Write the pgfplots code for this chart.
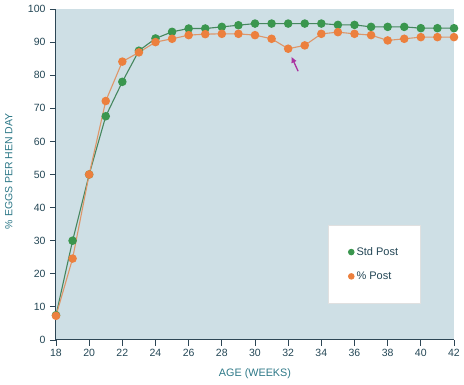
\documentclass[border=0pt]{standalone}
\usepackage{pgfplots}
\pgfplotsset{compat=1.18}
\usetikzlibrary{arrows.meta}
\usepackage{fontspec}
\setmainfont{Liberation Sans}
\definecolor{bgcol}{RGB}{206,223,229}
\definecolor{axcol}{RGB}{45,70,85}
\definecolor{tickcol}{RGB}{35,70,85}
\definecolor{labcol}{RGB}{45,120,135}
\definecolor{gmark}{RGB}{58,150,78}
\definecolor{gline}{RGB}{70,135,95}
\definecolor{omark}{RGB}{236,128,62}
\definecolor{oline}{RGB}{222,150,105}
\definecolor{arrcol}{RGB}{170,50,160}
\begin{document}
\begin{tikzpicture}
\useasboundingbox (-56pt,-45pt) rectangle (408pt,340pt);
\begin{axis}[
  at={(0,0)}, anchor=south west,
  scale only axis, width=398pt, height=331pt,
  xmin=18, xmax=42, ymin=0, ymax=100,
  xtick={18,20,...,42}, ytick={0,10,...,100},
  axis x line*=bottom, axis y line*=left,
  axis line style={axcol, line width=1pt},
  tick style={axcol, line width=0.9pt},
  tick align=outside, major tick length=6pt,
  axis background/.style={fill=bgcol},
  ticklabel style={font=\fontsize{10.5}{12}\selectfont, text=tickcol},
  yticklabel style={xshift=-1pt},
  /pgf/number format/assume math mode=true,
  xlabel={AGE (WEEKS)}, ylabel={\% EGGS PER HEN DAY},
  xlabel style={font=\fontsize{10.8}{12}\selectfont, text=labcol, at={(axis description cs:0.5,0)}, anchor=north, yshift=-25pt},
  ylabel style={font=\fontsize{10.5}{12}\selectfont, text=labcol, at={(axis description cs:0,0.51)}, anchor=south, yshift=40pt},
  clip=false,
  legend cell align=left,
  legend style={at={(0.683,0.347)}, anchor=north west, draw=black!12, fill=white,
    font=\fontsize{11}{13}\selectfont, text=tickcol,
    inner xsep=20pt, inner ysep=20pt, row sep=11pt},
]
\addplot[gline, line width=1.1pt, mark=*, mark size=3.7pt,
  mark options={draw=gmark, fill=gmark},
  legend image code/.code={\fill[gmark] (0.3cm,0cm) circle (2.7pt);}]
coordinates {
(18,7.5)(19,30)(20,50)(21,67.6)(22,78)(23,87.4)(24,91.1)(25,93.1)(26,94.1)(27,94.1)(28,94.6)(29,95.1)(30,95.6)(31,95.6)(32,95.6)(33,95.6)(34,95.6)(35,95.2)(36,95.2)(37,94.6)(38,94.6)(39,94.6)(40,94.2)(41,94.2)(42,94.2)
};
\addlegendentry{Std Post}
\addplot[oline, line width=1.1pt, mark=*, mark size=3.7pt,
  mark options={draw=omark, fill=omark},
  legend image code/.code={\fill[omark] (0.3cm,0cm) circle (2.7pt);}]
coordinates {
(18,7.3)(19,24.6)(20,50)(21,72.2)(22,84.1)(23,86.9)(24,90)(25,91)(26,92.1)(27,92.4)(28,92.5)(29,92.5)(30,92.1)(31,91)(32,88)(33,89)(34,92.5)(35,93)(36,92.5)(37,92.1)(38,90.5)(39,91)(40,91.5)(41,91.5)(42,91.5)
};
\addlegendentry{\% Post}
\draw[arrcol, line width=1.3pt, -{Latex[length=6pt,width=6pt]}] (axis cs:32.6,81.2) -- (axis cs:32.2,85.6);
\end{axis}
\end{tikzpicture}
\end{document}
